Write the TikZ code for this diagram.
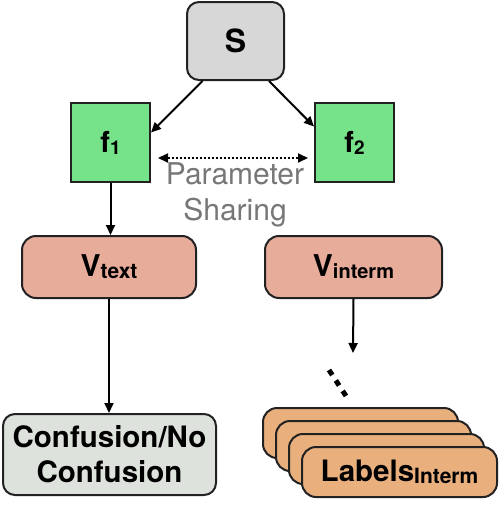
\documentclass[tikz,border=0pt]{standalone}
\usepackage{fontspec}
\setmainfont{TeX Gyre Heros}
\usetikzlibrary{arrows.meta,calc}
\definecolor{sgray}{HTML}{D7D7D7}
\definecolor{fgreen}{HTML}{76E28A}
\definecolor{vsalmon}{HTML}{E8AC9B}
\definecolor{cgray}{HTML}{DEE2DD}
\definecolor{lorange}{HTML}{E9B07E}
\definecolor{edgec}{HTML}{222222}
\definecolor{ptext}{HTML}{777777}
\newcommand{\sub}[2]{{\fontsize{#1}{#1}\selectfont\raisebox{-2pt}{#2}}}
\begin{document}
\begin{tikzpicture}[x=1pt,y=-1pt,
  box/.style={draw=edgec,line width=2pt,inner sep=0pt,font=\bfseries},
  conn/.style={line width=2pt,-{Triangle[length=10pt,width=9pt]}},
  lblbox/.style={box,fill=lorange,rounded corners=14pt,minimum width=195pt,minimum height=50pt}]
\useasboundingbox (0,0) rectangle (498,506);
\node[box,fill=sgray,rounded corners=12pt,minimum width=97pt,minimum height=78pt,font=\bfseries\fontsize{32}{32}\selectfont] (S) at (235.5,41) {S};
\node[box,fill=fgreen,minimum width=79pt,minimum height=79pt] (f1) at (110.5,142.5) {\fontsize{29}{29}\selectfont f\sub{19}{1}};
\node[box,fill=fgreen,minimum width=79pt,minimum height=79pt] (f2) at (354.5,142.5) {\fontsize{29}{29}\selectfont f\sub{19}{2}};
\node[box,fill=vsalmon,rounded corners=14pt,minimum width=174pt,minimum height=62pt] (vt) at (109,267) {\fontsize{30}{30}\selectfont V\sub{21}{text}};
\node[box,fill=vsalmon,rounded corners=14pt,minimum width=177pt,minimum height=62pt] (vi) at (353.5,267) {\fontsize{30}{30}\selectfont V\sub{20}{interm}};
\node[box,fill=cgray,rounded corners=12pt,minimum width=213pt,minimum height=81pt,align=center,font=\bfseries\fontsize{29.5}{35}\selectfont] (conf) at (109.5,454.5) {Confusion/No\\Confusion};
\node[text=ptext,align=center,font=\fontsize{30}{36}\selectfont] (ps) at (235,195) {Parameter\\Sharing};
\node[lblbox] (l1) at (360.5,433) {};
\node[lblbox] (l2) at (373.5,446) {};
\node[lblbox] (l3) at (386.5,459) {};
\node[lblbox] (l4) at (399.5,472) {\fontsize{29.5}{29.5}\selectfont Labels\sub{21}{Interm}};
\coordinate (vend) at (353,353);
\coordinate (d1) at (329,370);
\coordinate (d2) at (346,396);
\draw[conn] ([xshift=-33pt]S.south) -- ([yshift=10pt]f1.east);
\draw[conn] ([xshift=33.5pt]S.south) -- ([yshift=16pt]f2.west);
\draw[line width=2pt,dash pattern=on 2pt off 2pt,{Triangle[length=10pt,width=9pt]}-{Triangle[length=10pt,width=9pt]}] ([xshift=7pt,yshift=-15.5pt]f1.east) -- ([xshift=-6pt,yshift=-15.5pt]f2.west);
\draw[conn] (f1.south) -- (f1.south |- vt.north);
\draw[conn] (vt.south) -- (vt.south |- conf.north);
\draw[conn] (vi.south) -- (vend);
\draw[line width=5pt,dash pattern=on 6pt off 6.5pt] (d1) -- (d2);
\end{tikzpicture}
\end{document}
